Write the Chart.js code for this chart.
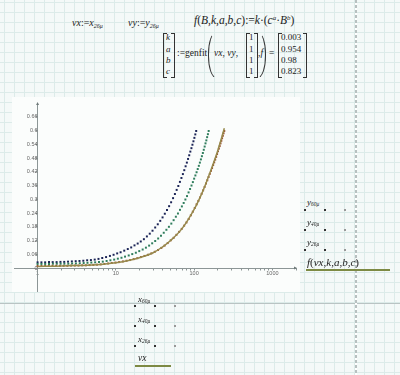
<!DOCTYPE html>
<html>
<head>
<meta charset="utf-8">
<script src="https://cdn.jsdelivr.net/npm/chart.js@4.4.1/dist/chart.umd.min.js"></script>
<style>
html, body { margin: 0; padding: 0; }
body {
    width: 400px; height: 375px; overflow: hidden; position: relative;
    background-color: #f4f9f8;
    background-image:
        linear-gradient(to right, #dcebe9 1px, transparent 1px),
        linear-gradient(to bottom, #dcebe9 1px, transparent 1px);
    background-size: 10px 10px;
    background-position: 4px 2px;
    font-family: "Liberation Serif", "DejaVu Serif", serif;
    color: #222;
}
.m { position: absolute; font-style: italic; line-height: 1; white-space: nowrap; }
.u { font-style: normal; }
.m sub { font-size: 0.6em; vertical-align: -0.25em; }
.m sup { font-size: 0.6em; vertical-align: 0.6em; }
.brl, .brr { position: absolute; border: 1px solid #333; width: 3px; }
.brl { border-right: none; }
.brr { border-left: none; }
.pl, .pr { position: absolute; width: 6px; border: 1px solid transparent; }
.pl { border-left-color: #333; border-radius: 8px 0 0 8px / 22px 0 0 22px; }
.pr { border-right-color: #333; border-radius: 0 8px 8px 0 / 0 22px 22px 0; }
.dot { position: absolute; width: 2px; height: 2px; background: #333; }
#plotbg { position: absolute; left: 12px; top: 97px; width: 288px; height: 195px; background: #fbfdfc; }
#wrap { position: absolute; left: 4px; top: 93px; width: 302px; height: 208px; }
#pagebreak { position: absolute; left: 0; top: 303px; width: 400px; height: 1px; background: #b9c3c3; }
#margin { position: absolute; left: 355px; top: 0; width: 2px; height: 375px;
    background: repeating-linear-gradient(to bottom, #b8c0c0 0 3px, #ffffff 3px 5px); }
</style>
</head>
<body>
<div id="plotbg"></div>
<div id="pagebreak"></div>
<div id="margin"></div>

<!-- worksheet math -->
<div class="m" style="left:72px;top:18px;font-size:10px">vx<span class="u">:=</span>x<sub>26μ</sub></div>
<div class="m" style="left:128px;top:18px;font-size:10px">vy<span class="u">:=</span>y<sub>26μ</sub></div>
<div class="m" style="left:194px;top:15px;font-size:11.5px">f<span class="u">(</span>B<span class="u">,</span>k<span class="u">,</span>a<span class="u">,</span>b<span class="u">,</span>c<span class="u">):=</span>k<span class="u">·(</span>c<sup>a</sup><span class="u">·</span>B<sup>b</sup><span class="u">)</span></div>

<div class="brl" style="left:163px;top:33px;height:43px"></div>
<div class="brr" style="left:171px;top:33px;height:43px"></div>
<div class="m" style="left:166px;top:33px;font-size:9px">k</div>
<div class="m" style="left:166px;top:45px;font-size:9px">a</div>
<div class="m" style="left:166px;top:56px;font-size:9px">b</div>
<div class="m" style="left:166px;top:67px;font-size:9px">c</div>
<div class="m u" style="left:177px;top:49px;font-size:9.5px;font-style:normal">:=genfit</div>
<div class="pl" style="left:208px;top:32px;height:44px"></div>
<div class="m" style="left:214px;top:49px;font-size:9.5px">vx<span class="u">,</span> vy<span class="u">,</span></div>
<div class="brl" style="left:246px;top:33px;height:43px"></div>
<div class="brr" style="left:254px;top:33px;height:43px"></div>
<div class="m u" style="left:249px;top:33px;font-size:9px">1</div>
<div class="m u" style="left:249px;top:45px;font-size:9px">1</div>
<div class="m u" style="left:249px;top:56px;font-size:9px">1</div>
<div class="m u" style="left:249px;top:67px;font-size:9px">1</div>
<div class="m" style="left:258px;top:49px;font-size:9.5px"><span class="u">,</span>f</div>
<div class="pr" style="left:258px;top:32px;height:44px"></div>
<div class="m u" style="left:269px;top:49px;font-size:9.5px">=</div>
<div class="brl" style="left:278px;top:33px;height:43px"></div>
<div class="brr" style="left:303px;top:33px;height:43px"></div>
<div class="m u" style="left:281px;top:33px;font-size:9px">0.003</div>
<div class="m u" style="left:281px;top:45px;font-size:9px">0.954</div>
<div class="m u" style="left:281px;top:56px;font-size:9px">0.98</div>
<div class="m u" style="left:281px;top:67px;font-size:9px">0.823</div>

<div id="wrap"><canvas id="c" width="302" height="208"></canvas></div>

<!-- y-axis legend -->
<div class="m" style="left:307px;top:198px;font-size:9px">y<sub>60μ</sub></div>
<div class="dot" style="left:304px;top:209px"></div><div class="dot" style="left:324px;top:209px"></div><div class="dot" style="left:344px;top:209px;background:#999"></div>
<div class="m" style="left:307px;top:218px;font-size:9px">y<sub>40μ</sub></div>
<div class="dot" style="left:304px;top:229px"></div><div class="dot" style="left:324px;top:229px"></div><div class="dot" style="left:344px;top:229px;background:#999"></div>
<div class="m" style="left:307px;top:238px;font-size:9px">y<sub>26μ</sub></div>
<div class="dot" style="left:304px;top:249px"></div><div class="dot" style="left:324px;top:249px"></div><div class="dot" style="left:344px;top:249px;background:#999"></div>
<div class="m" style="left:307px;top:257px;font-size:11px">f<span class="u">(</span>vx<span class="u">,</span>k<span class="u">,</span>a<span class="u">,</span>b<span class="u">,</span>c<span class="u">)</span></div>
<div style="position:absolute;left:306px;top:269px;width:84px;height:1.5px;background:#7d8a44"></div>

<!-- x-axis legend -->
<div class="m" style="left:138px;top:295px;font-size:9px">x<sub>60μ</sub></div>
<div class="dot" style="left:134px;top:305px"></div><div class="dot" style="left:154px;top:305px"></div><div class="dot" style="left:174px;top:305px;background:#999"></div>
<div class="m" style="left:138px;top:315px;font-size:9px">x<sub>40μ</sub></div>
<div class="dot" style="left:134px;top:325px"></div><div class="dot" style="left:154px;top:325px"></div><div class="dot" style="left:174px;top:325px;background:#999"></div>
<div class="m" style="left:138px;top:335px;font-size:9px">x<sub>26μ</sub></div>
<div class="dot" style="left:134px;top:345px"></div><div class="dot" style="left:154px;top:345px"></div><div class="dot" style="left:174px;top:345px;background:#999"></div>
<div class="m" style="left:138px;top:354px;font-size:9.5px">vx</div>
<div style="position:absolute;left:135px;top:365px;width:36px;height:1.5px;background:#7d8a44"></div>

<script>
const x60 = [1,1.12,1.25,1.4,1.56,1.75,1.96,2.19,2.45,2.74,3.07,3.43,3.84,4.3,4.8,5.37,6,6.7,7.5,8.4,
    9.35,10.4,11.5,12.8,14.2,15.7,17.3,19,20.8,22.8,24.9,27.1,29.4,31.8,34.3,36.9,39.5,42.2,45,47.9,
    50.8,53.8,56.8,59.8,62.8,65.8,68.8,71.8,74.8,77.8,80.7,83.6,86.5,89.4,92.3,95.1,97.9,100.7,103.5,106.2];
const y60 = [.025,.025,.025,.026,.026,.026,.027,.027,.028,.029,.030,.031,.032,.034,.035,.037,.040,.044,.048,.053,
    .058,.064,.069,.076,.083,.090,.099,.107,.116,.126,.138,.150,.163,.177,.191,.206,.221,.237,.253,.270,
    .287,.305,.323,.341,.358,.376,.393,.410,.427,.444,.460,.476,.492,.508,.523,.538,.553,.568,.583,.598];

const x40 = [1,1.12,1.25,1.4,1.57,1.76,1.97,2.2,2.47,2.76,3.09,3.46,3.88,4.34,4.86,5.44,6.09,6.81,7.62,8.52,
    9.52,10.6,11.8,13.1,14.6,16.2,18,19.9,22,24.2,26.6,29.1,31.8,34.7,37.7,40.9,44.2,47.6,51.1,54.7,
    58.4,62.1,65.9,69.7,73.5,77.3,81.1,84.9,88.7,92.5,96.3,100,103.7,107.4,111.1,114.8,118.4,122,125.6,129.2,
    132.7,136.2,139.7,143.1,146.5,149.9,153.3];
const y40 = [.018,.018,.018,.018,.019,.019,.019,.019,.019,.020,.020,.021,.022,.023,.024,.025,.026,.028,.031,.034,
    .037,.041,.045,.050,.055,.061,.067,.074,.081,.089,.098,.108,.118,.129,.141,.154,.167,.180,.194,.209,
    .224,.238,.254,.269,.284,.299,.314,.330,.345,.360,.375,.390,.404,.418,.432,.446,.460,.474,.488,.502,
    .516,.530,.544,.557,.571,.584,.598];

const x26 = [1,1.12,1.25,1.39,1.55,1.73,1.93,2.15,2.4,2.68,2.99,3.33,3.71,4.14,4.62,5.15,5.74,6.4,7.14,7.96,
    8.87,9.89,11,12.3,13.7,15.2,16.9,18.8,20.9,23.2,25.7,28.4,31.4,34.6,38.1,41.9,45.9,50.2,54.7,59.4,
    64.3,69.3,74.5,79.8,85.2,90.7,96.2,101.8,107.5,113.2,118.9,124.6,130.3,136,141.7,147.3,152.9,158.5,164,169.5,
    175,180.4,185.8,191.1,196.4,201.7,206.9,212.1,217.3,222.4,227.5,232.6,237.6,242.6];
const y26 = [.009,.009,.009,.009,.010,.010,.010,.010,.010,.011,.011,.011,.012,.012,.013,.014,.015,.016,.018,.020,
    .022,.024,.026,.029,.032,.035,.039,.043,.048,.053,.058,.064,.071,.079,.088,.098,.109,.121,.132,.145,
    .158,.171,.185,.199,.214,.230,.246,.262,.278,.293,.308,.324,.339,.354,.369,.383,.397,.411,.424,.436,
    .449,.461,.473,.485,.497,.509,.521,.532,.544,.555,.566,.577,.588,.598];

// fitted curve f(vx,k,a,b,c)
const fitX = [1,1.5,2,3,5,7,10,15,20,30,40,50,70,100,130,160,200,243];
const fitY = [.007,.008,.009,.011,.013,.017,.023,.034,.045,.067,.094,.12,.172,.256,.338,.418,.512,.61];

const yTickVals = [0,0.06,0.12,0.18,0.24,0.3,0.36,0.42,0.48,0.54,0.6,0.66];
const yTickLabels = ['0','0.06','0.12','0.18','0.24','0.3','0.36','0.42','0.48','0.54','0.6','0.66'];
const xMajor = [1,10,100,1000];
const xMajorLabels = ['1','10','100','1000'];
const xMinor = [2,3,4,5,6,7,8,9,20,30,40,50,60,70,80,90,200,300,400,500,600,700,800,900,2000];

function pts(xs, ys) { return xs.map((x, i) => ({ x: x, y: ys[i] })); }

const axisArrows = {
    id: 'axisArrows',
    afterDraw(chart) {
        const ctx = chart.ctx, a = chart.chartArea;
        const x0 = chart.scales.x.getPixelForValue(1);
        const y0 = chart.scales.y.getPixelForValue(0);
        ctx.save();
        ctx.fillStyle = '#6f7a7a';
        ctx.beginPath();
        ctx.moveTo(a.right + 1, y0); ctx.lineTo(a.right - 2, y0 - 1.5); ctx.lineTo(a.right - 2, y0 + 1.5);
        ctx.closePath(); ctx.fill();
        ctx.beginPath();
        ctx.moveTo(x0, a.top - 1); ctx.lineTo(x0 - 1.5, a.top + 2); ctx.lineTo(x0 + 1.5, a.top + 2);
        ctx.closePath(); ctx.fill();
        ctx.restore();
    }
};

const dotStyle = (color) => ({
    showLine: false, pointStyle: 'rect', pointRadius: 1.4, pointBorderWidth: 0,
    backgroundColor: color, borderColor: color
});

new Chart(document.getElementById('c'), {
    type: 'scatter',
    data: {
        datasets: [
            Object.assign({ label: 'f', data: pts(fitX, fitY), showLine: true, borderColor: '#968a4c',
                borderWidth: 1.5, pointRadius: 0, tension: 0.35, order: 0 }),
            Object.assign({ label: 'y26', data: pts(x26, y26), order: 1 }, dotStyle('#9a5230')),
            Object.assign({ label: 'y40', data: pts(x40, y40), order: 2 }, dotStyle('#2f7d5c')),
            Object.assign({ label: 'y60', data: pts(x60, y60), order: 3 }, dotStyle('#1b2456'))
        ]
    },
    options: {
        responsive: false,
        animation: false,
        devicePixelRatio: 1,
        layout: { padding: 10 },
        plugins: { legend: { display: false }, tooltip: { enabled: false } },
        scales: {
            x: {
                type: 'logarithmic',
                min: 0.5, max: 2000,
                position: { y: 0 },
                afterBuildTicks: s => { s.ticks = xMajor.concat(xMinor).sort((a, b) => a - b).map(v => ({ value: v })); },
                ticks: {
                    autoSkip: false, maxRotation: 0, padding: 1,
                    font: { size: 5.5, family: 'Liberation Sans' }, color: '#666',
                    callback: v => { const i = xMajor.indexOf(v); return i >= 0 ? xMajorLabels[i] : ''; }
                },
                grid: { drawOnChartArea: false, drawTicks: true, tickLength: 1.5, color: '#8c9696' },
                border: { display: true, color: '#8c9696', width: 1 }
            },
            y: {
                type: 'linear',
                min: -0.1, max: 0.72,
                position: { x: 1 },
                afterBuildTicks: s => { s.ticks = yTickVals.map(v => ({ value: v })); },
                ticks: {
                    autoSkip: false, padding: 1,
                    font: { size: 5.5, family: 'Liberation Sans' }, color: '#666',
                    callback: (v, i) => yTickLabels[i]
                },
                grid: { drawOnChartArea: false, drawTicks: true, tickLength: 1.5, color: '#8c9696' },
                border: { display: true, color: '#8c9696', width: 1 }
            }
        }
    },
    plugins: [axisArrows]
});
</script>
</body>
</html>
